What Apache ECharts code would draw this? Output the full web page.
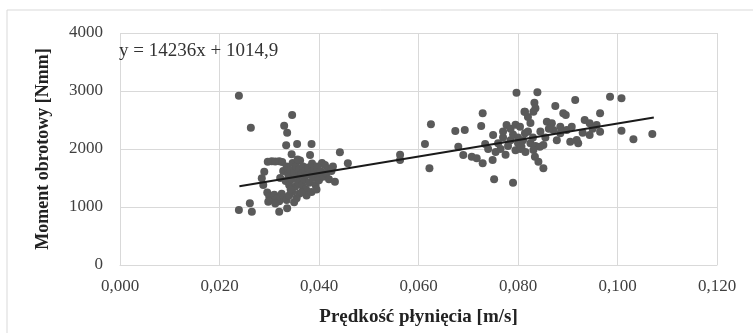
<!DOCTYPE html>
<html>
<head>
<meta charset="utf-8">
<script src="https://cdn.jsdelivr.net/npm/echarts@6/dist/echarts.min.js"></script>
<style>
  html, body { margin: 0; padding: 0; background: #fff; }
  #chart { width: 753px; height: 333px; }
</style>
</head>
<body>
<div id="chart"></div>
<script>
// prędkość płynięcia [m/s] / moment obrotowy [Nmm] – punkty pomiarowe
const pointsLow = [
  [0.0239, 2920], [0.0263, 2367], [0.0346, 2586], [0.0330, 2400], [0.0336, 2280],
  [0.0334, 2063], [0.0356, 2086], [0.0385, 2086], [0.0442, 1943], [0.0458, 1753],
  [0.0382, 1896], [0.0345, 1908], [0.0297, 1780], [0.0305, 1790], [0.0312, 1785],
  [0.0320, 1790], [0.0326, 1775], [0.0290, 1608], [0.0285, 1494], [0.0288, 1379],
  [0.0296, 1250], [0.0300, 1180], [0.0305, 1120], [0.0310, 1210], [0.0315, 1150],
  [0.0320, 1100], [0.0325, 1230], [0.0330, 1170], [0.0298, 1090], [0.0312, 1060],
  [0.0335, 1120], [0.0340, 1200], [0.0346, 1260], [0.0350, 1080], [0.0355, 1150],
  [0.0360, 1230], [0.0368, 1300], [0.0261, 1063], [0.0239, 948], [0.0265, 919],
  [0.0320, 919], [0.0336, 977], [0.0322, 1500], [0.0328, 1620], [0.0333, 1450],
  [0.0335, 1700], [0.0338, 1560], [0.0340, 1380], [0.0342, 1640], [0.0345, 1480],
  [0.0347, 1760], [0.0350, 1600], [0.0352, 1350], [0.0354, 1700], [0.0356, 1520],
  [0.0358, 1420], [0.0360, 1650], [0.0362, 1800], [0.0364, 1560], [0.0366, 1380],
  [0.0368, 1700], [0.0370, 1480], [0.0372, 1620], [0.0374, 1300], [0.0376, 1550],
  [0.0378, 1680], [0.0380, 1420], [0.0383, 1600], [0.0386, 1750], [0.0388, 1500],
  [0.0390, 1640], [0.0393, 1380], [0.0396, 1700], [0.0398, 1560], [0.0400, 1460],
  [0.0403, 1620], [0.0406, 1760], [0.0408, 1520], [0.0412, 1724], [0.0415, 1580],
  [0.0418, 1660], [0.0420, 1480], [0.0425, 1620], [0.0432, 1436], [0.0428, 1700],
  [0.0375, 1200], [0.0385, 1260], [0.0365, 1250], [0.0395, 1300], [0.0343, 1300],
  [0.0357, 1820]
];
const pointsHigh = [
  [0.0563, 1810], [0.0563, 1900], [0.0613, 2086], [0.0622, 1667], [0.0625, 2425],
  [0.0674, 2310], [0.0693, 2327], [0.0680, 2040], [0.0690, 1896], [0.0707, 1867],
  [0.0717, 1839], [0.0729, 1753], [0.0749, 1810], [0.0752, 1477], [0.0790, 1419],
  [0.0729, 2615], [0.0726, 2396], [0.0797, 2970], [0.0813, 2643], [0.0750, 2241],
  [0.0734, 2086], [0.0777, 2414], [0.0755, 1950], [0.0760, 2100], [0.0765, 2000],
  [0.0770, 2200], [0.0775, 1900], [0.0780, 2050], [0.0785, 2150], [0.0790, 2250],
  [0.0795, 1980], [0.0800, 2100], [0.0770, 2300], [0.0785, 2350], [0.0795, 2420],
  [0.0800, 2200], [0.0805, 2000], [0.0810, 2150], [0.0815, 1950], [0.0820, 2300],
  [0.0825, 2100], [0.0830, 2200], [0.0835, 2050], [0.0740, 2000], [0.0839, 2977],
  [0.0833, 2798], [0.0835, 2701], [0.0831, 2643], [0.0875, 2741], [0.0915, 2845],
  [0.0985, 2902], [0.1008, 2873], [0.0965, 2615], [0.0891, 2615], [0.0896, 2586],
  [0.0814, 2643], [0.0934, 2500], [0.0944, 2443], [0.0958, 2414], [0.1008, 2316],
  [0.1032, 2167], [0.1070, 2258], [0.0944, 2241], [0.0965, 2298], [0.0921, 2098],
  [0.0918, 2155], [0.0905, 2126], [0.0885, 2270], [0.0871, 2327], [0.0858, 2471],
  [0.0868, 2443], [0.0851, 2069], [0.0844, 2040], [0.0831, 1983], [0.0834, 1867],
  [0.0841, 1781], [0.0851, 1667], [0.0804, 2384], [0.0814, 2270], [0.0807, 2040],
  [0.0885, 2384], [0.0898, 2327], [0.0908, 2384], [0.0845, 2300], [0.0855, 2200],
  [0.0862, 2350], [0.0878, 2150], [0.0950, 2350], [0.0930, 2280], [0.0825, 2450],
  [0.0820, 2550]
];
// linia trendu (końce)
const trendLine = [[0.0240, 1357], [0.1073, 2542]];
const trendLabel = "y = 14236x + 1014,9";

const xTitle = "Prędkość płynięcia [m/s]";
const yTitle = "Moment obrotowy [Nmm]";

const serif = '"Liberation Serif", "Times New Roman", serif';

const chart = echarts.init(document.getElementById("chart"));

const option = {
  animation: false,
  grid: { left: 120, top: 33, right: 36, bottom: 68 },
  graphic: [
    {
      type: "rect",
      shape: { x: 7, y: 10, width: 760, height: 340 },
      style: { fill: "none", stroke: "#d9d9d9", lineWidth: 1 },
      silent: true
    },
    {
      type: "text",
      left: 119,
      top: 42,
      style: { text: trendLabel, font: "19px " + serif, fill: "#333" },
      z: 10
    }
  ],
  xAxis: {
    type: "value",
    min: 0,
    max: 0.12,
    interval: 0.02,
    name: xTitle,
    nameLocation: "middle",
    nameGap: 43,
    nameTextStyle: { fontFamily: serif, fontWeight: "bold", fontSize: 19, color: "#222" },
    axisLine: { show: true, lineStyle: { color: "#d9d9d9" } },
    axisTick: { show: false },
    axisLabel: {
      margin: 13,
      fontFamily: serif,
      fontSize: 17,
      color: "#404040",
      formatter: (v) => v.toFixed(3).replace(".", ",")
    },
    splitLine: { show: true, lineStyle: { color: "#d9d9d9", width: 1 } }
  },
  yAxis: {
    type: "value",
    min: 0,
    max: 4000,
    interval: 1000,
    name: yTitle,
    nameLocation: "middle",
    nameGap: 68,
    nameTextStyle: { fontFamily: serif, fontWeight: "bold", fontSize: 18, color: "#222" },
    axisLine: { show: false },
    axisTick: { show: false },
    axisLabel: {
      margin: 17,
      fontFamily: serif,
      fontSize: 17,
      color: "#404040",
      formatter: (v) => String(v)
    },
    splitLine: { show: true, lineStyle: { color: "#d9d9d9", width: 1 } }
  },
  series: [
    {
      type: "scatter",
      data: pointsLow.concat(pointsHigh),
      symbolSize: 8,
      itemStyle: { color: "#5a5a5a", opacity: 1 },
      silent: true
    },
    {
      type: "line",
      data: trendLine,
      showSymbol: false,
      lineStyle: { color: "#1a1a1a", width: 2 },
      silent: true,
      z: 5
    }
  ]
};

chart.setOption(option);
</script>
</body>
</html>
